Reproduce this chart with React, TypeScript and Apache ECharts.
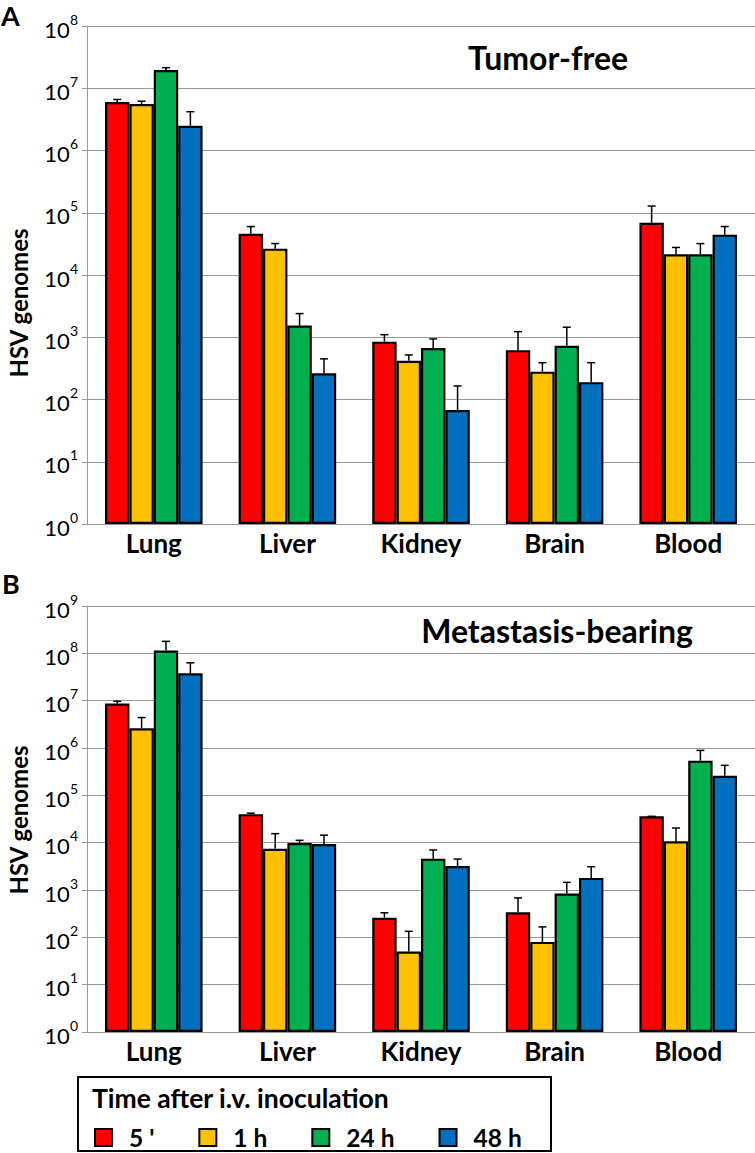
import React, { useEffect, useRef } from "react";
import * as echarts from "echarts";

const categories = ["Lung", "Liver", "Kidney", "Brain", "Blood"];
const seriesNames = ["5 '", "1 h", "24 h", "48 h"];
const colors = ["#FF0000", "#FFC000", "#00B050", "#0070C0"];

// Tumor-free (A): means and upper error bar ends
const tf5min = [6.0e6, 4.6e4, 8.5e2, 6.2e2, 6.9e4];
const tf1h = [5.6e6, 2.65e4, 4.2e2, 2.8e2, 2.15e4];
const tf24h = [1.96e7, 1.54e3, 6.7e2, 7.3e2, 2.15e4];
const tf48h = [2.5e6, 2.63e2, 68, 1.9e2, 4.45e4];
const tf5minErr = [6.6e6, 6.0e4, 1.1e3, 1.23e3, 1.28e5];
const tf1hErr = [6.2e6, 3.2e4, 5.2e2, 3.9e2, 2.77e4];
const tf24hErr = [2.14e7, 2.4e3, 9.4e2, 1.45e3, 3.2e4];
const tf48hErr = [4.2e6, 4.5e2, 1.65e2, 3.9e2, 6.0e4];

// Metastasis-bearing (B)
const mb5min = [8.7e6, 4.0e4, 2.6e2, 3.4e2, 3.6e4];
const mb1h = [2.6e6, 7.4e3, 50, 80, 1.07e4];
const mb24h = [1.15e8, 9.8e3, 4.6e3, 8.4e2, 5.4e5];
const mb48h = [3.8e7, 9.4e3, 3.2e3, 1.8e3, 2.6e5];
const mb5minErr = [9.7e6, 4.2e4, 3.3e2, 6.8e2, 3.6e4];
const mb1hErr = [4.4e6, 1.55e4, 1.34e2, 1.66e2, 2.04e4];
const mb24hErr = [1.79e8, 1.12e4, 7.0e3, 1.45e3, 8.9e5];
const mb48hErr = [6.3e7, 1.44e4, 4.5e3, 3.1e3, 4.3e5];

const yTicksA = [1, 1e1, 1e2, 1e3, 1e4, 1e5, 1e6, 1e7, 1e8];
const yTicksB = [1, 1e1, 1e2, 1e3, 1e4, 1e5, 1e6, 1e7, 1e8, 1e9];

const FONT = "Lato";
const CAT_GAP = 0.27;

export default function App() {
  const ref = useRef<HTMLDivElement>(null);

  useEffect(() => {
    if (!ref.current) return;
    const chart = echarts.init(ref.current, null, { renderer: "svg" });

    const groupsA = [tf5min, tf1h, tf24h, tf48h];
    const errsA = [tf5minErr, tf1hErr, tf24hErr, tf48hErr];
    const groupsB = [mb5min, mb1h, mb24h, mb48h];
    const errsB = [mb5minErr, mb1hErr, mb24hErr, mb48hErr];

    const errData = (groups: number[][], errs: number[][]) => {
      const out: number[][] = [];
      groups.forEach((g, si) =>
        g.forEach((v, ci) => out.push([ci, si, v, errs[si][ci]]))
      );
      return out;
    };

    const renderErr = (params: any, api: any) => {
      const ci = api.value(0);
      const si = api.value(1);
      const v = api.value(2);
      const e = api.value(3);
      const p0 = api.coord([ci, v]);
      const p1 = api.coord([ci, e]);
      const band = api.coord([1, v])[0] - api.coord([0, v])[0];
      const barW = (band * (1 - CAT_GAP)) / 4;
      const x = p0[0] + (si - 1.5) * barW;
      const style = { stroke: "#000", lineWidth: 1.5 };
      return {
        type: "group",
        children: [
          { type: "line", shape: { x1: x, y1: p0[1], x2: x, y2: p1[1] }, style },
          { type: "line", shape: { x1: x - 4, y1: p1[1], x2: x + 4, y2: p1[1] }, style },
        ],
      };
    };

    const makeBars = (groups: number[][], axisIdx: number) =>
      groups.map((g, si) => ({
        type: "bar",
        name: seriesNames[si],
        xAxisIndex: axisIdx,
        yAxisIndex: axisIdx,
        data: g,
        barGap: "0%",
        barCategoryGap: CAT_GAP * 100 + "%",
        itemStyle: { color: colors[si], borderColor: "#000", borderWidth: 2.2 },
        z: 2,
      }));

    const yAxisCommon = (max: number, gi: number) => ({
      type: "log",
      logBase: 10,
      gridIndex: gi,
      min: 1,
      max,
      splitNumber: gi === 0 ? 8 : 9,
      axisLine: { show: true, lineStyle: { color: "#999", width: 1 } },
      axisTick: { show: true, length: 5, inside: false, lineStyle: { color: "#999" } },
      splitLine: { show: true, lineStyle: { color: "#999", width: 1 } },
      axisLabel: {
        margin: 9,
        formatter: (v: number) => `{b|10}{s|${Math.round(Math.log10(v))}}`,
        rich: {
          b: { fontSize: 22, fontFamily: FONT, color: "#000", verticalAlign: "bottom", lineHeight: 28 },
          s: { fontSize: 14, fontFamily: FONT, color: "#000", verticalAlign: "top", lineHeight: 28 },
        },
      },
    });

    const xAxisCommon = (gi: number) => ({
      type: "category",
      gridIndex: gi,
      data: categories,
      axisLine: { show: true, lineStyle: { color: "#999", width: 1 } },
      axisTick: { show: false },
      axisLabel: {
        margin: 6,
        fontSize: 26,
        fontWeight: "bold",
        fontFamily: FONT,
        color: "#000",
      },
    });

    const option: any = {
      animation: false,
      textStyle: { fontFamily: FONT },
      grid: [
        { left: 87, top: 26, width: 672, height: 498 },
        { left: 87, top: 606, width: 672, height: 426 },
      ],
      xAxis: [xAxisCommon(0), xAxisCommon(1)],
      yAxis: [yAxisCommon(yTicksA[yTicksA.length - 1], 0), yAxisCommon(yTicksB[yTicksB.length - 1], 1)],
      legend: {
        data: seriesNames,
        left: 94,
        top: 1125,
        padding: 0,
        itemWidth: 17,
        itemHeight: 17,
        itemGap: 44,
        icon: "rect",
        selectedMode: false,
        itemStyle: { borderColor: "#000", borderWidth: 2 },
        textStyle: {
          fontSize: 24.5,
          lineHeight: 20,
          fontWeight: "bold",
          fontFamily: FONT,
          color: "#000",
          padding: [0, 0, 0, 12],
        },
      },
      series: [
        ...makeBars(groupsA, 0),
        ...makeBars(groupsB, 1),
        {
          type: "custom",
          name: "errA",
          xAxisIndex: 0,
          yAxisIndex: 0,
          data: errData(groupsA, errsA),
          encode: { x: 0, y: 3 },
          renderItem: renderErr,
          z: 3,
          silent: true,
        },
        {
          type: "custom",
          name: "errB",
          xAxisIndex: 1,
          yAxisIndex: 1,
          data: errData(groupsB, errsB),
          encode: { x: 0, y: 3 },
          renderItem: renderErr,
          z: 3,
          silent: true,
        },
      ],
      graphic: [
        { type: "text", left: 1, top: 2, style: { text: "A", fontSize: 27, fontWeight: "bold", fontFamily: FONT, fill: "#000" } },
        { type: "text", left: 2, top: 570, style: { text: "B", fontSize: 27, fontWeight: "bold", fontFamily: FONT, fill: "#000" } },
        {
          type: "text", x: 18, y: 303, rotation: Math.PI / 2,
          style: { text: "HSV genomes", fontSize: 24, fontWeight: "bold", fontFamily: FONT, fill: "#000", align: "center", verticalAlign: "middle" },
        },
        {
          type: "text", x: 18, y: 820, rotation: Math.PI / 2,
          style: { text: "HSV genomes", fontSize: 24, fontWeight: "bold", fontFamily: FONT, fill: "#000", align: "center", verticalAlign: "middle" },
        },
        {
          type: "text", x: 548, y: 57,
          style: { text: "Tumor-free", fontSize: 32, fontWeight: "bold", fontFamily: FONT, fill: "#000", align: "center", verticalAlign: "middle" },
        },
        {
          type: "text", x: 557, y: 630,
          style: { text: "Metastasis-bearing", fontSize: 32, fontWeight: "bold", fontFamily: FONT, fill: "#000", align: "center", verticalAlign: "middle" },
        },
        {
          type: "rect", shape: { x: 78, y: 1077, width: 473, height: 74 },
          style: { fill: "none", stroke: "#000", lineWidth: 2 },
        },
        {
          type: "text", x: 92, y: 1098,
          style: { text: "Time after i.v. inoculation", fontSize: 26.5, fontWeight: "bold", fontFamily: FONT, fill: "#000", align: "left", verticalAlign: "middle" },
        },
      ],
    };

    chart.setOption(option);
    return () => chart.dispose();
  }, []);

  return (
    <div
      ref={ref}
      style={{ position: "absolute", left: 0, top: 0, width: 755, height: 1153, background: "#fff" }}
    />
  );
}
